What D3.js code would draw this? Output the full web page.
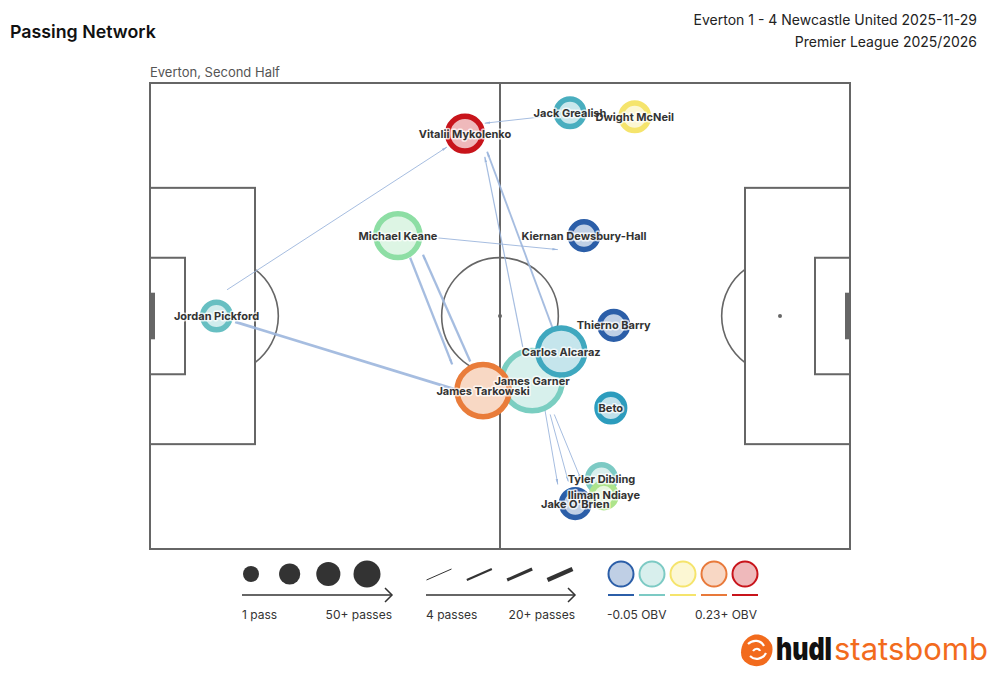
<!DOCTYPE html>
<html><head><meta charset="utf-8">
<script src="https://cdn.jsdelivr.net/npm/d3@7"></script>
<style>
body{margin:0;background:#fff;}
text{font-family:Inter,"Noto Sans",sans-serif;}
</style></head>
<body><svg id="c" width="1000" height="690"></svg>
<script>
// ---------- DATA ----------
const title = "Passing Network";
const matchLine = "Everton 1 - 4 Newcastle United 2025-11-29";
const compLine = "Premier League 2025/2026";
const subtitle = "Everton, Second Half";

// players: name, x (yards 0-120), y (yards 0-80), passes, OBV
const playerNames = ["Jordan Pickford","Vitalii Mykolenko","Jack Grealish","Dwight McNeil","Michael Keane","Kiernan Dewsbury-Hall","Thierno Barry","James Garner","Carlos Alcaraz","James Tarkowski","Beto","Iliman Ndiaye","Tyler Dibling","Jake O'Brien"];
const playerX = [11.4, 54.0, 72.0, 83.1, 42.5, 74.4, 79.5, 65.5, 70.5, 57.1, 79.0, 77.8, 77.4, 72.9];
const playerY = [40.0, 8.7, 5.1, 5.8, 26.2, 26.2, 41.6, 51.1, 46.1, 52.8, 55.8, 70.8, 67.9, 72.2];
const playerPasses = [8, 15, 8, 8, 24, 8, 8, 40, 27, 32, 8, 5, 8, 8];
const playerOBV = [0.012, 0.23, 0.0, 0.09, 0.05, -0.05, -0.05, 0.025, -0.004, 0.158, -0.012, 0.065, 0.02, -0.05];

// pass links: average start/end locations (yards) and pass counts
const linkX1 = [13.2, 14.6, 44.6, 54.9, 49.4, 68.2, 69.1, 63.9, 67.7, 68.6, 69.3];
const linkY1 = [35.5, 41.0, 30.0, 47.8, 26.6, 5.7, 42.3, 45.3, 56.1, 56.9, 56.9];
const linkX2 = [50.9, 52.3, 51.8, 46.8, 69.9, 57.4, 57.8, 57.4, 69.9, 71.7, 73.9];
const linkY2 = [11.0, 52.6, 48.3, 29.5, 28.6, 6.9, 11.8, 12.7, 68.9, 68.4, 68.1];
const linkPasses = [4, 12, 10, 10, 4, 4, 8, 5, 4, 4, 4];

// legends
const sizeLegendValues = [1, 15, 30, 50];
const sizeLegendLabels = ["1 pass", "50+ passes"];
const widthLegendValues = [4, 9, 14, 20];
const widthLegendLabels = ["4 passes", "20+ passes"];
const obvStops = [-0.05, 0.02, 0.09, 0.16, 0.23];
const obvColors = ["#2b5ea8", "#7ccac4", "#f5e46c", "#e8793a", "#c8141b"];
const obvLegendLabels = ["-0.05 OBV", "0.23+ OBV"];

// ---------- SCALES ----------
const svg = d3.select("#c");
const x = d3.scaleLinear().domain([0,120]).range([150,850]);
const y = d3.scaleLinear().domain([0,80]).range([83,549]);
const rScale = d3.scaleLinear().domain([1,50]).range([13,38]).clamp(true);
const wScale = d3.scaleLinear().domain([4,20]).range([1,4.5]).clamp(true);
const cScale = d3.scaleLinear().domain(obvStops).range(obvColors).interpolate(d3.interpolateHcl).clamp(true);
const lighten = c => d3.interpolateRgb("#ffffff", c)(0.3);
const ink = "#666";

// ---------- HEADER ----------
svg.append("text").attr("x",10).attr("y",38).attr("font-size",17.8).attr("font-weight",600).attr("fill","#111").text(title);
svg.append("text").attr("x",977).attr("y",25).attr("text-anchor","end").attr("font-size",14).attr("fill","#222").text(matchLine);
svg.append("text").attr("x",977).attr("y",47).attr("text-anchor","end").attr("font-size",14).attr("fill","#222").text(compLine);
svg.append("text").attr("x",150).attr("y",77).attr("font-size",13).attr("fill","#555").text(subtitle);

// ---------- PITCH ----------
const p = svg.append("g").attr("fill","none").attr("stroke",ink).attr("stroke-width",2);
const rect = (x0,y0,x1,y1) => p.append("rect").attr("x",x(x0)).attr("y",y(y0)).attr("width",x(x1)-x(x0)).attr("height",y(y1)-y(y0));
rect(0,0,120,80);
p.append("line").attr("x1",x(60)).attr("x2",x(60)).attr("y1",y(0)).attr("y2",y(80));
rect(0,18,18,62); rect(102,18,120,62);
rect(0,30,6,50); rect(114,30,120,50);
const R = x(10)-x(0);
p.append("circle").attr("cx",x(60)).attr("cy",y(40)).attr("r",R).attr("stroke-width",1.6);
const arcAng = Math.acos(6/10);
p.append("path").attr("transform",`translate(${x(12)},${y(40)})`).attr("stroke-width",1.6)
  .attr("d", d3.arc()({innerRadius:R,outerRadius:R,startAngle:Math.PI/2-arcAng,endAngle:Math.PI/2+arcAng}));
p.append("path").attr("transform",`translate(${x(108)},${y(40)})`).attr("stroke-width",1.6)
  .attr("d", d3.arc()({innerRadius:R,outerRadius:R,startAngle:-Math.PI/2-arcAng,endAngle:-Math.PI/2+arcAng}));
svg.append("circle").attr("cx",x(60)).attr("cy",y(40)).attr("r",2).attr("fill",ink);
svg.append("circle").attr("cx",x(108)).attr("cy",y(40)).attr("r",2).attr("fill",ink);
svg.append("circle").attr("cx",x(12)).attr("cy",y(40)).attr("r",2).attr("fill",ink);
svg.append("rect").attr("x",x(0)).attr("y",y(36)).attr("width",5).attr("height",y(44)-y(36)).attr("fill",ink);
svg.append("rect").attr("x",x(120)-5).attr("y",y(36)).attr("width",5).attr("height",y(44)-y(36)).attr("fill",ink);

// ---------- LINKS ----------
const edgeCol = "#9cb6dd";
svg.append("defs").append("marker").attr("id","ah").attr("markerUnits","userSpaceOnUse")
  .attr("viewBox","0 0 10 10").attr("refX",9).attr("refY",5).attr("markerWidth",6).attr("markerHeight",6).attr("orient","auto")
  .append("path").attr("d","M0,3 L10,5 L0,7 Z").attr("fill",edgeCol);
const links = linkPasses.map((n,i)=>({x1:linkX1[i],y1:linkY1[i],x2:linkX2[i],y2:linkY2[i],n}));
svg.append("g").selectAll("line").data(links).join("line")
  .attr("x1",d=>x(d.x1)).attr("y1",d=>y(d.y1)).attr("x2",d=>x(d.x2)).attr("y2",d=>y(d.y2))
  .attr("stroke",edgeCol).attr("stroke-opacity",0.9).attr("stroke-width",d=>wScale(d.n))
  .attr("marker-end","url(#ah)");

// ---------- NODES ----------
const players = playerNames.map((name,i)=>({name,x:playerX[i],y:playerY[i],n:playerPasses[i],obv:playerOBV[i]}));
const ring = 5.5;
const order = players.slice().sort((a,b)=>b.n-a.n);
svg.append("g").selectAll("circle").data(order).join("circle")
  .attr("cx",d=>x(d.x)).attr("cy",d=>y(d.y)).attr("r",d=>rScale(d.n)-ring/2)
  .attr("fill",d=>lighten(cScale(d.obv))).attr("stroke",d=>cScale(d.obv)).attr("stroke-width",ring);
const lab = svg.append("g").attr("font-size",11).attr("font-weight",700).attr("text-anchor","middle");
lab.selectAll("text.h").data(players).join("text").attr("class","h")
  .attr("x",d=>x(d.x)).attr("y",d=>y(d.y)+4).attr("fill","none").attr("stroke","#fff").attr("stroke-width",3)
  .attr("stroke-opacity",0.75).attr("stroke-linejoin","round").text(d=>d.name);
lab.selectAll("text.t").data(players).join("text").attr("class","t")
  .attr("x",d=>x(d.x)).attr("y",d=>y(d.y)+4).attr("fill","#333").text(d=>d.name);

// ---------- LEGENDS ----------
const ly = 574, ay = 595, ty = 619;
const legR = d3.scaleSqrt().domain([1,50]).range([8,13.5]);
const sizeX = d3.scalePoint().domain(sizeLegendValues).range([251,367]);
svg.append("g").selectAll("circle").data(sizeLegendValues).join("circle")
  .attr("cx",d=>sizeX(d)).attr("cy",ly).attr("r",d=>legR(d)).attr("fill","#333");
const arrow = (x0,x1)=>{
  const g = svg.append("g").attr("stroke","#333").attr("stroke-width",1.5).attr("fill","none");
  g.append("line").attr("x1",x0).attr("x2",x1).attr("y1",ay).attr("y2",ay);
  g.append("path").attr("d",`M${x1-7},${ay-7} L${x1},${ay} L${x1-7},${ay+7}`);
};
arrow(242,392);
svg.append("text").attr("x",242).attr("y",ty).attr("font-size",12).attr("fill","#333").text(sizeLegendLabels[0]);
svg.append("text").attr("x",392).attr("y",ty).attr("text-anchor","end").attr("font-size",12).attr("fill","#333").text(sizeLegendLabels[1]);

const widthX = d3.scalePoint().domain(widthLegendValues).range([439,560]);
svg.append("g").selectAll("line").data(widthLegendValues).join("line")
  .attr("x1",d=>widthX(d)-12.5).attr("x2",d=>widthX(d)+12.5).attr("y1",ly+6).attr("y2",ly-5)
  .attr("stroke","#333").attr("stroke-width",d=>wScale(d));
arrow(426,575);
svg.append("text").attr("x",426).attr("y",ty).attr("font-size",12).attr("fill","#333").text(widthLegendLabels[0]);
svg.append("text").attr("x",575).attr("y",ty).attr("text-anchor","end").attr("font-size",12).attr("fill","#333").text(widthLegendLabels[1]);

const obvX = d3.scalePoint().domain(obvStops).range([621,745]);
const og = svg.append("g");
og.selectAll("circle").data(obvStops).join("circle")
  .attr("cx",d=>obvX(d)).attr("cy",ly).attr("r",12.5)
  .attr("fill",d=>lighten(cScale(d))).attr("stroke",d=>cScale(d)).attr("stroke-width",2);
og.selectAll("line").data(obvStops).join("line")
  .attr("x1",d=>obvX(d)-13).attr("x2",d=>obvX(d)+13).attr("y1",ay).attr("y2",ay)
  .attr("stroke",d=>cScale(d)).attr("stroke-width",2);
svg.append("text").attr("x",607).attr("y",ty).attr("font-size",12).attr("fill","#333").text(obvLegendLabels[0]);
svg.append("text").attr("x",757).attr("y",ty).attr("text-anchor","end").attr("font-size",12).attr("fill","#333").text(obvLegendLabels[1]);

// ---------- LOGO ----------
const lg = svg.append("g").attr("transform","translate(757,650)");
lg.append("path").attr("fill","#f26b1d")
  .attr("d","M-4,-15 C4,-17 12,-12 15,-5 C17,3 13,11 6,15 C-2,18 -11,15 -15,8 C-18,0 -14,-12 -4,-15 Z");
lg.append("path").attr("fill","none").attr("stroke","#fff").attr("stroke-width",2.2)
  .attr("d","M-9,-6 C-4,-11 4,-10 7,-4 M9,3 C6,9 -2,11 -7,6 M-4,1 C-2,-2 2,-2 3,1");
svg.append("text").attr("x",776).attr("y",660).attr("font-family","Lato, 'Open Sans', sans-serif").attr("font-weight",900)
  .attr("font-size",32).attr("fill","#111").attr("textLength",56).attr("lengthAdjust","spacingAndGlyphs").text("hudl");
svg.append("text").attr("x",834).attr("y",660).attr("font-family","'Open Sans', sans-serif").attr("font-weight",400)
  .attr("font-size",31).attr("fill","#f26b1d").attr("textLength",154).attr("lengthAdjust","spacingAndGlyphs").text("statsbomb");
</script></body></html>
